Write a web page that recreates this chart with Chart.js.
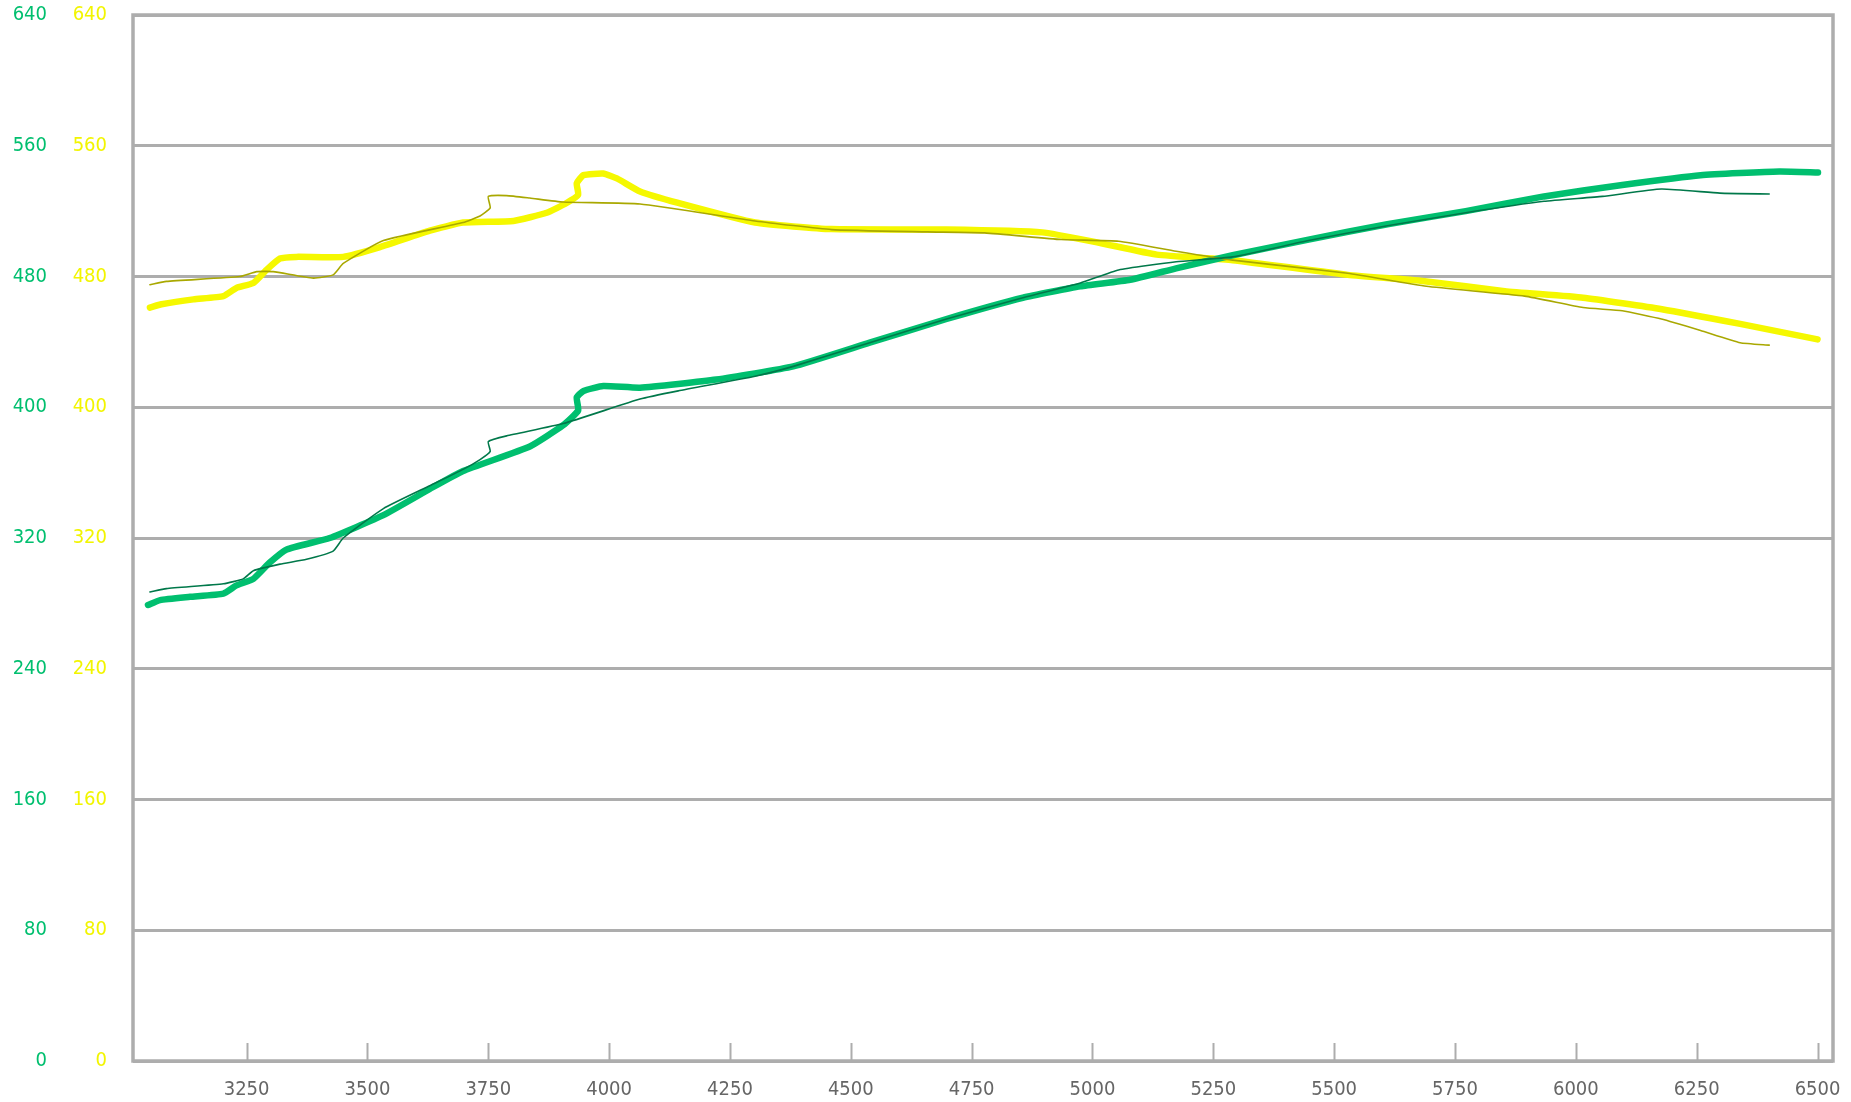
<!DOCTYPE html>
<html>
<head>
<meta charset="utf-8">
<title>Dyno chart</title>
<script src="https://cdn.jsdelivr.net/npm/chart.js@4"></script>
<style>
  html, body { margin:0; padding:0; background:#fff; }
  #chart { display:block; }
</style>
</head>
<body>
<canvas id="chart" width="1851" height="1102"></canvas>
<script>
// tick labels
var rpmTicks = [3250, 3500, 3750, 4000, 4250, 4500, 4750, 5000, 5250, 5500, 5750, 6000, 6250, 6500];
var valTicks = [0, 80, 160, 240, 320, 400, 480, 560, 640];

// thick green run
var greenRpm = [3046, 3071, 3133, 3202, 3229, 3264, 3298, 3333, 3422, 3533, 3629, 3698, 3836, 3905, 3936, 3933, 3947, 3988, 4064, 4222, 4381, 4539, 4698, 4856, 4975, 5078, 5173, 5290, 5447, 5610, 5772, 5934, 6096, 6258, 6421, 6501];
var greenVal = [279, 282, 284, 286, 291, 295, 305, 313, 320, 334, 350, 361, 376, 389, 398, 406, 410, 413, 412, 417, 425, 439.5, 454, 467, 474, 478, 485, 493, 502.6, 512, 520, 529, 536, 542, 544.3, 543.7];

// thin dark green run
var greenThinRpm = [3050, 3084, 3202, 3243, 3264, 3319, 3374, 3429, 3450, 3533, 3629, 3698, 3733, 3754, 3750, 3788, 3905, 4064, 4143, 4302, 4381, 4539, 4698, 4856, 4975, 5054, 5173, 5290, 5447, 5610, 5772, 5934, 6055, 6177, 6298, 6400];
var greenThinVal = [287, 289, 292, 295, 300, 304, 307, 312, 320, 338, 352, 362, 368, 373, 379, 382.5, 390, 405, 410, 419, 425, 439.5, 454, 467, 476, 484, 489, 492, 502, 511, 519, 526, 529, 533.5, 531, 530.5];

// thick yellow run
var yellowRpm = [3050, 3074, 3140, 3202, 3229, 3264, 3291, 3319, 3353, 3450, 3526, 3629, 3698, 3802, 3871, 3912, 3936, 3933, 3947, 3988, 4016, 4064, 4143, 4302, 4460, 4698, 4896, 5014, 5133, 5290, 5528, 5691, 5853, 6015, 6178, 6340, 6500];
var yellowVal = [461, 463, 466, 468, 473, 476, 484, 491, 492, 492, 498, 508, 513, 514, 519, 525, 530, 537, 542, 543, 540, 532, 525, 513, 509, 508.7, 507, 500.6, 493.4, 490, 481, 477, 471, 467, 460, 451, 441.5];

// thin olive run
var oliveRpm = [3050, 3084, 3236, 3271, 3305, 3388, 3429, 3450, 3533, 3698, 3733, 3754, 3750, 3788, 3836, 3905, 4064, 4302, 4460, 4658, 4777, 4935, 5054, 5173, 5290, 5528, 5691, 5894, 6015, 6096, 6177, 6258, 6340, 6400];
var oliveVal = [475, 477, 480, 483, 483, 479, 481, 488, 502, 513, 517, 522, 529, 529.5, 528, 525.6, 524.4, 514, 508.7, 507.3, 506.7, 502.6, 501.6, 495.5, 490, 482, 474, 468, 461, 459, 454, 447, 439.5, 438];

function pts(xs, ys) {
    return xs.map(function(x, i) { return {x: x, y: ys[i]}; });
}

var FONT = '"DejaVu Sans Condensed", "DejaVu Sans", sans-serif';
var GRID = '#adadad';

// frame round the plot and the short rpm tick marks standing on the bottom edge
var framePlugin = {
    id: 'frame',
    beforeDatasetsDraw: function(chart) {
        var ctx = chart.ctx, a = chart.chartArea, xs = chart.scales.x;
        ctx.save();
        ctx.strokeStyle = GRID;
        ctx.lineWidth = 2;
        rpmTicks.forEach(function(v) {
            var x = Math.round(xs.getPixelForValue(v)) + 0.5;
            ctx.beginPath(); ctx.moveTo(x, a.bottom); ctx.lineTo(x, a.bottom - 18); ctx.stroke();
        });
        ctx.lineWidth = 3.5;
        ctx.strokeRect(a.left, a.top, a.right - a.left, a.bottom - a.top);
        ctx.restore();
    }
};

function lineSet(label, data, color, width, axis, order) {
    return {
        label: label, data: data, yAxisID: axis, order: order,
        showLine: true, borderColor: color, backgroundColor: color,
        borderWidth: width, pointRadius: 0, pointHoverRadius: 0,
        tension: 0.15, borderCapStyle: 'round', borderJoinStyle: 'round', fill: false
    };
}

function yFit(w) {
    return function(s) { s.width = w; s.paddingTop = 0; s.paddingBottom = 0; };
}

var ctx = document.getElementById('chart').getContext('2d');
var chart = new Chart(ctx, {
    type: 'scatter',
    data: {
        datasets: [
            lineSet('thin green', pts(greenThinRpm, greenThinVal), '#00784a', 1.6, 'yG', 1),
            lineSet('thin olive', pts(oliveRpm, oliveVal), '#a9a800', 1.6, 'yY', 2),
            lineSet('green', pts(greenRpm, greenVal), '#00bf6f', 6.5, 'yG', 3),
            lineSet('yellow', pts(yellowRpm, yellowVal), '#f5f800', 6.5, 'yY', 4)
        ]
    },
    options: {
        responsive: false,
        animation: false,
        events: [],
        layout: { autoPadding: false, padding: { top: 15, right: 18, left: 0, bottom: 0 } },
        plugins: { legend: { display: false }, title: { display: false }, tooltip: { enabled: false } },
        scales: {
            x: {
                type: 'linear', position: 'bottom', min: 3015, max: 6532,
                afterBuildTicks: function(s) { s.ticks = rpmTicks.map(function(v) { return {value: v}; }); },
                afterFit: function(s) { s.height = 41; s.paddingLeft = 0; s.paddingRight = 0; },
                grid: { display: false, drawTicks: false },
                border: { display: false },
                ticks: { color: '#666', padding: 17, font: { family: FONT, size: 20 }, maxRotation: 0, autoSkip: false,
                         callback: function(v) { return String(v); } }
            },
            yG: {
                type: 'linear', position: 'left', weight: 1, min: 0, max: 640,
                afterBuildTicks: function(s) { s.ticks = valTicks.map(function(v) { return {value: v}; }); },
                afterFit: yFit(73),
                grid: { display: false, drawTicks: false },
                border: { display: false },
                ticks: { color: '#00bf6f', padding: 26, font: { family: FONT, size: 20 } }
            },
            yY: {
                type: 'linear', position: 'left', weight: 0, min: 0, max: 640,
                afterBuildTicks: function(s) { s.ticks = valTicks.map(function(v) { return {value: v}; }); },
                afterFit: yFit(60),
                grid: { color: GRID, lineWidth: 3, drawTicks: false },
                border: { display: false },
                ticks: { color: '#f2f500', padding: 26, font: { family: FONT, size: 20 } }
            }
        }
    },
    plugins: [framePlugin]
});
</script>
</body>
</html>
